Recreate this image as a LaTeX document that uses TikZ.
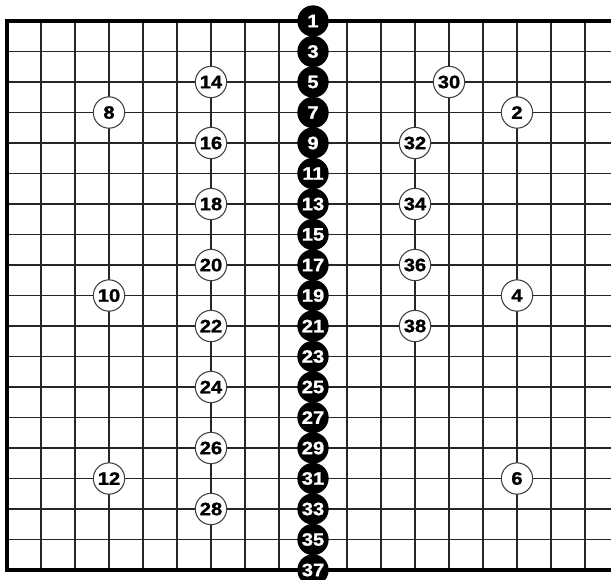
\documentclass[tikz,border=0pt]{standalone}
\usepackage{fontspec}
\newfontfamily\stonefont[FakeStretch=1.12, FakeBold=1.2]{Liberation Sans}

\tikzset{
    gridline/.style={line width=1pt, black!85},
    edgeline/.style={line width=2.3pt, black},
    stone/.style={circle, minimum size=23.5pt, inner sep=0pt,
        font=\stonefont\bfseries\fontsize{13.5}{13.5}\selectfont},
    blackstone/.style={stone, fill=black, text=white},
    whitestone/.style={stone, fill=white, draw=black!75, line width=0.8pt, text=black}
}

\begin{document}
\begin{tikzpicture}[x=25.5pt, y=-22.875pt]
    % The board is cut off on the right, so we fix the frame.
    \useasboundingbox (-0.206,-0.689) rectangle (17.765,18.295);

    % Inner lines of the board.
    \foreach \c in {1,...,17} {
        \draw[gridline] (\c,0) -- (\c,18);
    }
    \foreach \r in {1,...,17} {
        \draw[gridline] (0,\r) -- (17.9,\r);
    }
    % Edges: top, left and bottom.
    \draw[edgeline] (17.9,0) -- (0,0) -- (0,18) -- (17.9,18);

    % Black stones down the middle column.
    \foreach \n in {1,3,...,37} {
        \node[blackstone] (b\n) at (9,{(\n-1)/2}) {\n};
    }

    % White stones, as number/column/row.
    \foreach \n/\c/\r in {2/15/3, 4/15/9, 6/15/15, 8/3/3, 10/3/9, 12/3/15,
                          14/6/2, 16/6/4, 18/6/6, 20/6/8, 22/6/10, 24/6/12,
                          26/6/14, 28/6/16, 30/13/2, 32/12/4, 34/12/6,
                          36/12/8, 38/12/10} {
        \node[whitestone] (w\n) at (\c,\r) {\n};
    }
\end{tikzpicture}
\end{document}
